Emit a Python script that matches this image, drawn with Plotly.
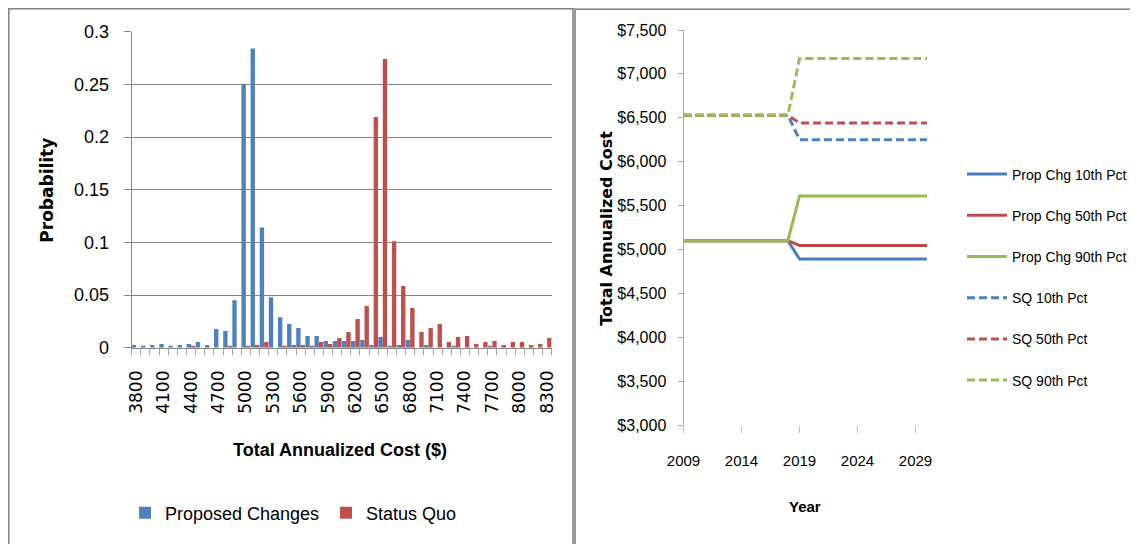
import plotly.graph_objects as go

# left chart: probability distribution of total annualized cost
cost = [3800, 3900, 4000, 4100, 4200, 4300, 4400, 4500, 4600, 4700,
        4800, 4900, 5000, 5100, 5200, 5300, 5400, 5500, 5600, 5700,
        5800, 5900, 6000, 6100, 6200, 6300, 6400, 6500, 6600, 6700,
        6800, 6900, 7000, 7100, 7200, 7300, 7400, 7500, 7600, 7700,
        7800, 7900, 8000, 8100, 8200, 8300]

proposed = [0.0025, 0.0016, 0.0025, 0.0035, 0.0016, 0.0025, 0.0035, 0.0054, 0.0025, 0.0177,
            0.0158, 0.045, 0.250, 0.284, 0.114, 0.048, 0.029, 0.0225, 0.0187, 0.011,
            0.011, 0.0063, 0.0063, 0.0063, 0.0063, 0.0073, 0.0025, 0.0101, 0.0016, 0.0025,
            0.0073, 0, 0.0025, 0, 0, 0.0016, 0, 0, 0, 0.0016,
            0, 0, 0, 0, 0, 0]

status_quo = [0, 0, 0, 0, 0, 0, 0.0016, 0, 0, 0,
              0.0016, 0, 0.0016, 0.0025, 0.0054, 0, 0.0016, 0.0025, 0.0025, 0.0016,
              0.0054, 0.0035, 0.0092, 0.0149, 0.0272, 0.0396, 0.219, 0.274, 0.101, 0.0586,
              0.0377, 0.0149, 0.0187, 0.0225, 0.0054, 0.0101, 0.011, 0.0035, 0.0054, 0.0063,
              0.0025, 0.0054, 0.0054, 0.0025, 0.0035, 0.0092]

# right chart: percentiles over time
years = [2009, 2010, 2011, 2012, 2013, 2014, 2015, 2016, 2017, 2018, 2019,
         2020, 2021, 2022, 2023, 2024, 2025, 2026, 2027, 2028, 2029, 2030]

prop_10 = [5100, 5100, 5100, 5100, 5100, 5100, 5100, 5100, 5100, 5100, 4890,
           4890, 4890, 4890, 4890, 4890, 4890, 4890, 4890, 4890, 4890, 4890]
prop_50 = [5100, 5100, 5100, 5100, 5100, 5100, 5100, 5100, 5100, 5100, 5045,
           5045, 5045, 5045, 5045, 5045, 5045, 5045, 5045, 5045, 5045, 5045]
prop_90 = [5100, 5100, 5100, 5100, 5100, 5100, 5100, 5100, 5100, 5100, 5610,
           5610, 5610, 5610, 5610, 5610, 5610, 5610, 5610, 5610, 5610, 5610]
sq_10 = [6530, 6530, 6530, 6530, 6530, 6530, 6530, 6530, 6530, 6530, 6250,
         6250, 6250, 6250, 6250, 6250, 6250, 6250, 6250, 6250, 6250, 6250]
sq_50 = [6530, 6530, 6530, 6530, 6530, 6530, 6530, 6530, 6530, 6530, 6440,
         6440, 6440, 6440, 6440, 6440, 6440, 6440, 6440, 6440, 6440, 6440]
sq_90 = [6530, 6530, 6530, 6530, 6530, 6530, 6530, 6530, 6530, 6530, 7175,
         7175, 7175, 7175, 7175, 7175, 7175, 7175, 7175, 7175, 7175, 7175]

# page body has an 8px margin, so the figure is a bit smaller and shifted
OFF = 8
W, H = 1138 - OFF, 544 - OFF
FONT = "Liberation Sans, Arial, sans-serif"
GRAY = "#868686"


def px_x(v):
    return (v - OFF) / W


def px_y(v):
    return 1 - (v - OFF) / H


fig = go.Figure()

fig.add_trace(go.Bar(x=cost, y=proposed, name="Proposed Changes",
                     marker=dict(color="#4F81BD", line=dict(width=0)),
                     xaxis="x", yaxis="y", legend="legend"))
fig.add_trace(go.Bar(x=cost, y=status_quo, name="Status Quo",
                     marker=dict(color="#C0504D", line=dict(width=0)),
                     xaxis="x", yaxis="y", legend="legend"))

lines = [
    ("Prop Chg 10th Pct", prop_10, "#4A7EBB", "solid"),
    ("Prop Chg 50th Pct", prop_50, "#BE4B48", "solid"),
    ("Prop Chg 90th Pct", prop_90, "#98B954", "solid"),
    ("SQ 10th Pct", sq_10, "#4F81BD", "8px,4px"),
    ("SQ 50th Pct", sq_50, "#C0504D", "8px,4px"),
    ("SQ 90th Pct", sq_90, "#9BBB59", "8px,4px"),
]
for name, vals, col, dash in lines:
    fig.add_trace(go.Scatter(x=years, y=vals, name=name, mode="lines",
                             line=dict(color=col, width=3, dash=dash),
                             xaxis="x2", yaxis="y2", legend="legend2",
                             legendgroup=name))

fig.update_layout(
    width=W, height=H,
    margin=dict(l=0, r=0, t=0, b=0, autoexpand=False),
    paper_bgcolor="white", plot_bgcolor="white",
    barmode="group", bargap=0.04, bargroupgap=0,
    xaxis=dict(
        domain=[px_x(131.7), px_x(551.7)], anchor="y", automargin=False,
        range=[3750, 8350],
        tick0=3800, dtick=300, ticks="",
        tickangle=-90, ticklabelstandoff=15,
        tickfont=dict(family="DejaVu Sans", size=17, color="#000"),
        showline=True, linecolor=GRAY, linewidth=1,
        showgrid=False, zeroline=False,
        minor=dict(tick0=3750, dtick=100, ticks="outside", ticklen=6,
                   tickcolor="#A6A6A6", showgrid=False),
    ),
    yaxis=dict(
        domain=[px_y(347.7), px_y(31.7)], anchor="x", automargin=False,
        range=[0, 0.3], dtick=0.05,
        ticks="outside", ticklen=7, tickcolor=GRAY,
        ticklabelstandoff=11,
        tickfont=dict(family=FONT, size=18, color="#000"),
        showline=True, linecolor=GRAY, linewidth=1,
        showgrid=True, gridcolor=GRAY, gridwidth=1, zeroline=False,
    ),
    xaxis2=dict(
        domain=[px_x(683.5), px_x(927.1)], anchor="y2", automargin=False,
        range=[2009, 2030],
        tick0=2009, dtick=5, ticks="outside", ticklen=7, tickcolor="#BFBFBF",
        ticklabelstandoff=15,
        tickfont=dict(family=FONT, size=15, color="#000"),
        showline=False, showgrid=False, zeroline=False,
    ),
    yaxis2=dict(
        domain=[px_y(425), px_y(30)], anchor="x2", automargin=False,
        range=[3000, 7500], dtick=500, tickformat="$,",
        ticks="outside", ticklen=5, tickcolor="#A6A6A6",
        ticklabelstandoff=8,
        tickfont=dict(family=FONT, size=16, color="#000"),
        showline=True, linecolor="#A6A6A6", linewidth=1,
        showgrid=False, zeroline=False,
    ),
    legend=dict(
        orientation="h", x=px_x(125), y=px_y(513),
        xanchor="left", yanchor="middle",
        font=dict(family=FONT, size=18, color="#000"),
        entrywidth=156, entrywidthmode="pixels",
        bgcolor="rgba(0,0,0,0)",
    ),
    legend2=dict(
        orientation="v", x=px_x(962), y=px_y(277.5),
        xanchor="left", yanchor="middle",
        font=dict(family=FONT, size=14, color="#000"),
        tracegroupgap=20, itemwidth=40,
        bgcolor="rgba(0,0,0,0)",
    ),
    showlegend=True,
)

annos = [
    dict(text="<b>Probability</b>", x=px_x(46.7), y=px_y(190), textangle=-90,
         font=dict(family="DejaVu Sans", size=17, color="#000")),
    dict(text="<b>Total Annualized Cost ($)</b>", x=px_x(340), y=px_y(450),
         font=dict(family=FONT, size=18, color="#000")),
    dict(text="<b>Total Annualized Cost</b>", x=px_x(606.7), y=px_y(228), textangle=-90,
         font=dict(family="DejaVu Sans", size=16, color="#000")),
    dict(text="<b>Year</b>", x=px_x(805), y=px_y(506),
         font=dict(family=FONT, size=15, color="#000")),
]
for a in annos:
    fig.add_annotation(xref="paper", yref="paper", showarrow=False,
                       xanchor="center", yanchor="middle", **a)

# panel borders (kept just inside the drawable area)
fig.add_shape(type="rect", xref="paper", yref="paper",
              x0=px_x(8.8), x1=px_x(573), y0=px_y(560), y1=px_y(8.8),
              line=dict(color="#808080", width=1.5))
fig.add_shape(type="line", xref="paper", yref="paper",
              x0=px_x(575), x1=px_x(1140), y0=px_y(9.2), y1=px_y(9.2),
              line=dict(color="#808080", width=1.5))
fig.add_shape(type="line", xref="paper", yref="paper",
              x0=px_x(574.5), x1=px_x(574.5), y0=px_y(560), y1=px_y(8),
              line=dict(color="#9A9A9A", width=3))

fig.write_html("out.html")
